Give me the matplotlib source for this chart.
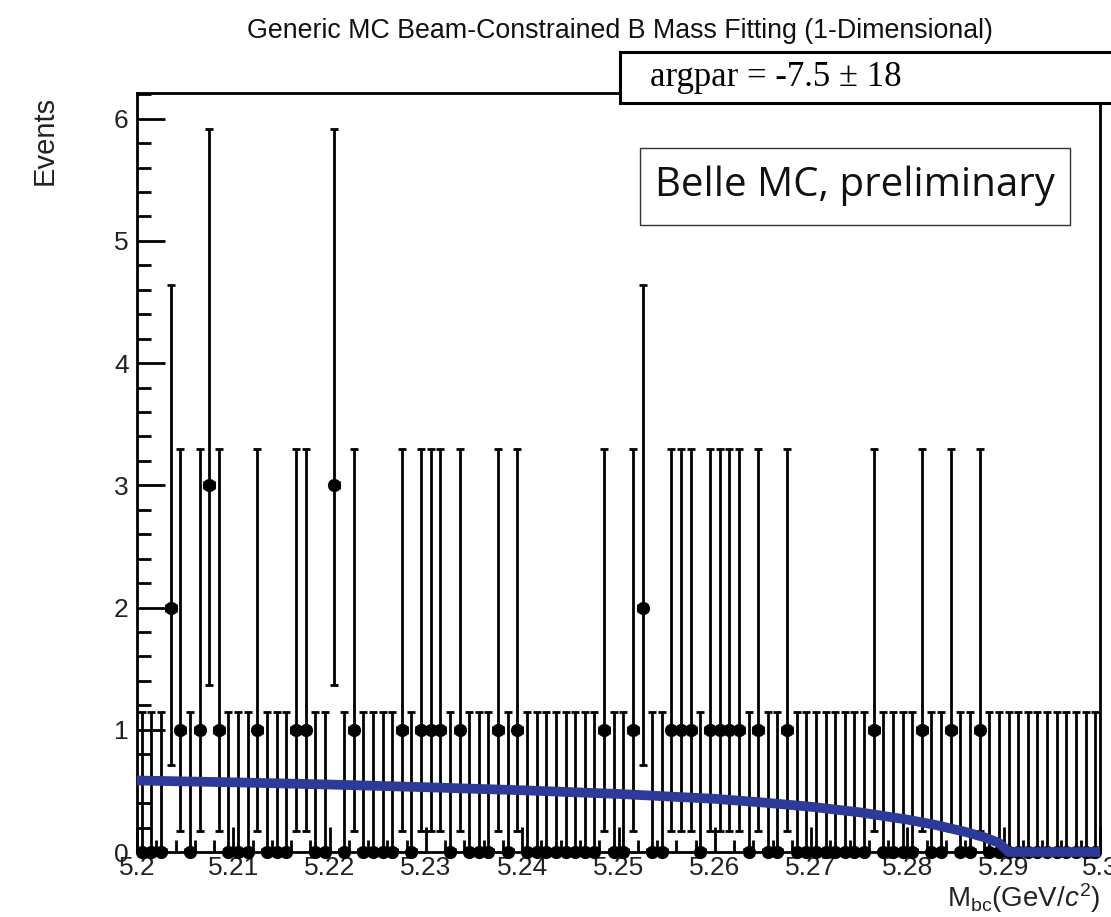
import numpy as np
import matplotlib
matplotlib.use("Agg")
import matplotlib.pyplot as plt
from matplotlib.patches import Rectangle
from matplotlib.ticker import MultipleLocator, FixedLocator

plt.rcParams['font.family'] = ['Liberation Sans', 'DejaVu Sans']
plt.rcParams['mathtext.fontset'] = 'custom'
plt.rcParams['mathtext.rm'] = 'Liberation Sans'
plt.rcParams['mathtext.it'] = 'Liberation Sans:italic'

# histogram: 100 bins of M_bc between 5.20 and 5.30 GeV/c^2
bin_lo, bin_hi, n_bins = 5.20, 5.30, 100
counts = [0, 0, 0, 2, 1, 0, 1, 3, 1, 0,
          0, 0, 1, 0, 0, 0, 1, 1, 0, 0,
          3, 0, 1, 0, 0, 0, 0, 1, 0, 1,
          1, 1, 0, 1, 0, 0, 0, 1, 0, 1,
          0, 0, 0, 0, 0, 0, 0, 0, 1, 0,
          0, 1, 2, 0, 0, 1, 1, 1, 0, 1,
          1, 1, 1, 0, 1, 0, 0, 1, 0, 0,
          0, 0, 0, 0, 0, 0, 1, 0, 0, 0,
          0, 1, 0, 0, 1, 0, 0, 1, 0, 0,
          0, 0, 0, 0, 0, 0, 0, 0, 0, 0]

# asymmetric Poisson errors for n = 0, 1, 2, 3 (as drawn)
poisson_lo = [0.0, 0.827, 1.291, 1.633]
poisson_hi = [1.148, 2.299, 2.638, 2.918]

# fitted ARGUS curve
curve_x = [5.200, 5.210, 5.220, 5.230, 5.240, 5.250, 5.260, 5.265, 5.270,
           5.275, 5.280, 5.283, 5.286, 5.288, 5.2895, 5.2905, 5.300]
curve_y = [0.585, 0.570, 0.552, 0.530, 0.505, 0.475, 0.435, 0.405, 0.370,
           0.325, 0.265, 0.220, 0.165, 0.120, 0.075, 0.0, 0.0]

xticks = [5.20, 5.21, 5.22, 5.23, 5.24, 5.25, 5.26, 5.27, 5.28, 5.29, 5.30]
xtick_labels = ['5.2', '5.21', '5.22', '5.23', '5.24', '5.25', '5.26',
                '5.27', '5.28', '5.29', '5.3']

title = 'Generic MC Beam-Constrained B Mass Fitting (1-Dimensional)'
fit_label = 'argpar = -7.5 \u00b1 18'
stamp = 'Belle MC, preliminary'

W, H = 1111, 917
fig = plt.figure(figsize=(W / 100, H / 100), dpi=100)
ax = fig.add_axes([137 / W, 1 - 852 / H, (1100 - 137) / W, (852 - 93) / H])

counts = np.array(counts)
edges = np.linspace(bin_lo, bin_hi, n_bins + 1)
centers = 0.5 * (edges[:-1] + edges[1:])
half_w = 0.5 * (edges[1] - edges[0])
ylo = np.array(poisson_lo)[counts]
yhi = np.array(poisson_hi)[counts]

ax.errorbar(centers, counts, xerr=half_w, yerr=[ylo, yhi], fmt='none',
            ecolor='black', elinewidth=2.0, capsize=2.6, capthick=2.0, zorder=3)
ax.plot(centers, counts, 'o', color='black', ms=8.5, zorder=4, clip_on=False)
ax.plot(curve_x, curve_y, '-', color='#2d3a99', lw=7, zorder=5,
        solid_capstyle='butt', clip_on=False)

ax.set_xlim(bin_lo, bin_hi)
ax.set_ylim(0, 6.21)
ax.xaxis.set_major_locator(FixedLocator(xticks))
ax.set_xticklabels(xtick_labels)
ax.xaxis.set_minor_locator(MultipleLocator(0.002))
ax.yaxis.set_major_locator(MultipleLocator(1))
ax.yaxis.set_minor_locator(MultipleLocator(0.2))
ax.tick_params(which='both', direction='in', width=2, colors='black',
               labelcolor='#222222', labelsize=19, top=False, right=False)
ax.tick_params(axis='y', which='major', length=20, pad=6)
ax.tick_params(axis='y', which='minor', length=10)
ax.tick_params(axis='x', which='major', length=18, pad=3)
ax.tick_params(axis='x', which='minor', length=9)
for s in ax.spines.values():
    s.set_linewidth(2)

fig.text(620 / W, 1 - 31 / H, title, ha='center', va='center', fontsize=19.3,
         color='#111111')
fig.text(45 / W, 1 - 140 / H, 'Events', rotation=90, ha='center', va='center',
         fontsize=21, color='#222222')
fig.text(1100 / W, 1 - 898 / H, r'M$_{\rm bc}$(GeV/$c^{\rm 2}$)', ha='right',
         va='center', fontsize=20, color='#222222')

# fit result box (runs off the right edge)
fig.patches.append(Rectangle((620 / W, 1 - 103 / H), 520 / W, 51 / H,
                             transform=fig.transFigure, facecolor='white',
                             edgecolor='black', lw=2.2, zorder=10))
fig.text(650 / W, 1 - 77 / H, fit_label, ha='left', va='center', fontsize=25,
         family=['Liberation Serif', 'DejaVu Serif'], zorder=11)

# stamp box
fig.patches.append(Rectangle((640 / W, 1 - 225 / H), 430 / W, 77 / H,
                             transform=fig.transFigure, facecolor='white',
                             edgecolor='#333333', lw=1.0, zorder=10))
fig.text(855 / W, 1 - 186 / H, stamp, ha='center', va='center', fontsize=29,
         family=['Open Sans', 'DejaVu Sans'], color='#111111', zorder=11)

fig.savefig('out.png', dpi=100)
